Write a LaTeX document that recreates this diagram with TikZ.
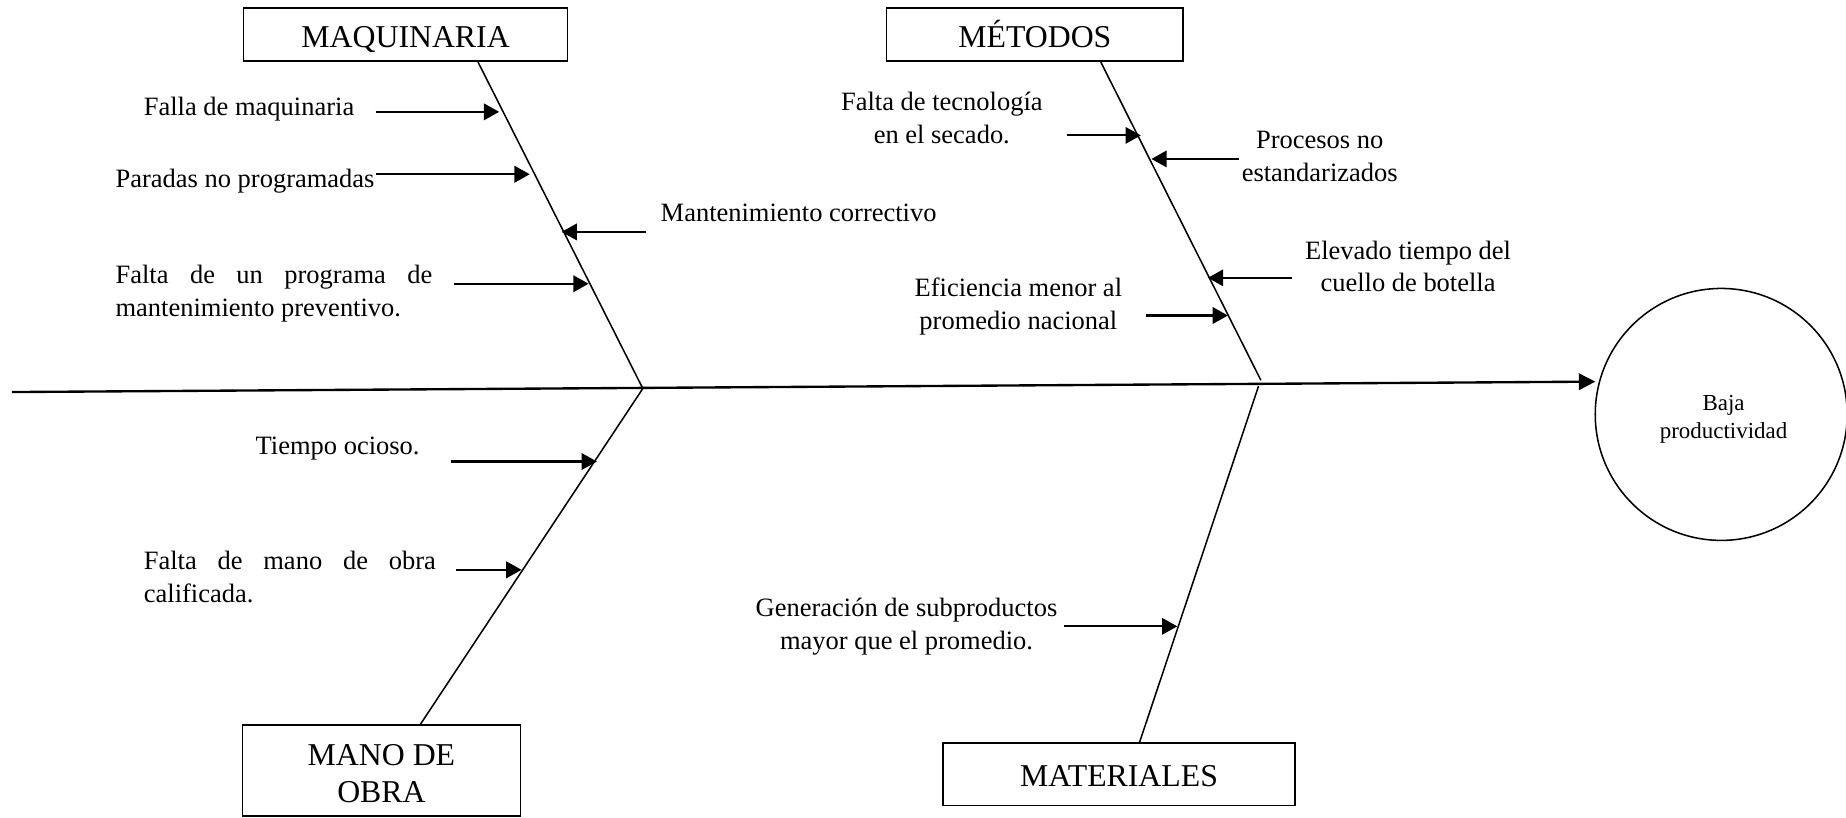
\documentclass[tikz,border=0pt]{standalone}
\usepackage{fontspec}
\setmainfont{Liberation Serif}
\usetikzlibrary{arrows.meta}

\begin{document}
\begin{tikzpicture}[x=1pt,y=-1pt,
  catbox/.style={draw, line width=1.3pt, inner sep=0pt, align=center,
    text height=25pt, text depth=4pt, font=\fontsize{27}{32}\selectfont},
  boxtitle/.style={inner sep=0pt, align=center, font=\fontsize{27}{32}\selectfont},
  cause/.style={inner sep=0pt, anchor=base, font=\fontsize{22.5}{28}\selectfont},
  bone/.style={line width=1.3pt},
  feed/.style={line width=1.8pt, -{Triangle[length=13pt,width=14pt]}},
  spine/.style={line width=2pt, -{Triangle[length=14pt,width=14pt]}},
]
\useasboundingbox (0,0) rectangle (1568,694);

% category boxes
\node[catbox, minimum width=275pt, minimum height=45pt] (maq) at (344.5,29.5) {MAQUINARIA};
\node[catbox, minimum width=252pt, minimum height=45pt] (met) at (879,29.5) {MÉTODOS};
\node[draw, line width=1.3pt, minimum width=236pt, minimum height=77pt] (mano) at (324,654.5) {};
\node[boxtitle] (manot) at (324,657) {MANO DE\\OBRA};
\node[catbox, minimum width=299pt, minimum height=53pt] (mat) at (950.5,657.5) {MATERIALES};

% effect
\node[draw, circle, minimum size=214pt, line width=1.3pt, inner sep=0pt] (efecto) at (1462,352) {};
\node[inner sep=0pt, align=center, font=\fontsize{19.5}{24}\selectfont] (efectot) at (1464,356)
  {Baja\\productividad};

% spine and bones
\coordinate (tail) at (10,333);
\coordinate (j1) at (546,330);
\coordinate (j2) at (1071,323);
\coordinate (j3) at (1069,328);
\draw[spine, shorten >=3pt] (tail) -- (efecto.165);
\draw[bone] ([xshift=61.5pt]maq.south) -- (j1) -- ([xshift=33pt]mano.north);
\draw[bone] ([xshift=56pt]met.south) -- (j2);
\draw[bone] (j3) -- ([xshift=17.5pt]mat.north);

% MAQUINARIA causes
\node[cause, anchor=base west] (c1) at (122,98) {Falla de maquinaria};
\node[cause, anchor=base west] (c2) at (98,159) {Paradas no programadas};
\node[cause, anchor=base west] (c3) at (561,188) {Mantenimiento correctivo};
\node[cause, anchor=base west, align=left] (c4) at (98,269)
  {\makebox[269pt][s]{Falta de un programa de}\\mantenimiento preventivo.};
\coordinate (c1s) at (319,95);  \coordinate (c1e) at (424,95);
\coordinate (c2s) at (319,148); \coordinate (c2e) at (450,148);
\coordinate (c3s) at (549,197); \coordinate (c3e) at (477,197);
\coordinate (c4s) at (386,241); \coordinate (c4e) at (500,241);
\draw[feed] (c1s) -- (c1e);
\draw[feed] (c2s) -- (c2e);
\draw[feed] (c3s) -- (c3e);
\draw[feed] (c4s) -- (c4e);

% MANO DE OBRA causes
\node[cause, anchor=base west] (c5) at (217,386) {Tiempo ocioso.};
\node[cause, anchor=base west, align=left] (c6) at (122,512)
  {\makebox[248pt][s]{Falta de mano de obra}\\calificada.};
\coordinate (c5s) at (383,392); \coordinate (c5e) at (507,392);
\coordinate (c6s) at (387,484); \coordinate (c6e) at (443,484);
\draw[feed] (c5s) -- (c5e);
\draw[feed] (c6s) -- (c6e);

% MÉTODOS causes
\node[cause, align=center] (c7) at (800,122) {Falta de tecnología\\en el secado.};
\node[cause, align=center] (c8) at (1121,154) {Procesos no\\estandarizados};
\node[cause, align=center] (c9) at (1196,248) {Elevado tiempo del\\cuello de botella};
\node[cause, align=center] (c10) at (865,280) {Eficiencia menor al\\promedio nacional};
\coordinate (c7s) at (906,115);  \coordinate (c7e) at (969,115);
\coordinate (c8s) at (1052,135); \coordinate (c8e) at (978,135);
\coordinate (c9s) at (1097,236); \coordinate (c9e) at (1026,236);
\coordinate (c10s) at (973,268); \coordinate (c10e) at (1043,268);
\draw[feed] (c7s) -- (c7e);
\draw[feed] (c8s) -- (c8e);
\draw[feed] (c9s) -- (c9e);
\draw[feed] (c10s) -- (c10e);

% MATERIALES causes
\node[cause, align=center] (c11) at (770,552) {Generación de subproductos\\mayor que el promedio.};
\coordinate (c11s) at (904,532); \coordinate (c11e) at (1000,532);
\draw[feed] (c11s) -- (c11e);
\end{tikzpicture}
\end{document}
